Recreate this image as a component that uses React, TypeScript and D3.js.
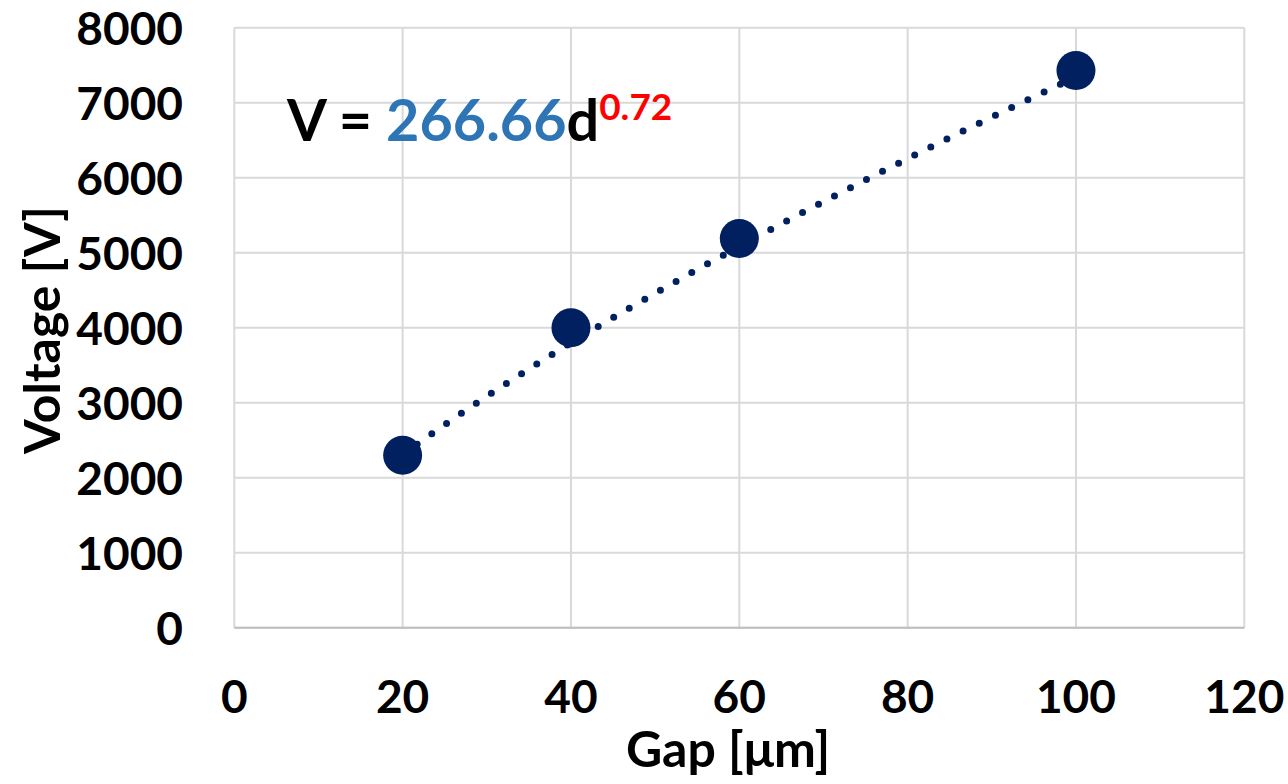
import React from "react";
import * as d3 from "d3";

const gapUm = [20, 40, 60, 100];
const voltage = [2300, 4000, 5190, 7430];
const xTicks = [0, 20, 40, 60, 80, 100, 120];
const yTicks = [0, 1000, 2000, 3000, 4000, 5000, 6000, 7000, 8000];
const fitCoeff = 266.66;
const fitExp = 0.72;

const W = 1288;
const H = 784;
const FONT = "Lato, 'Open Sans', sans-serif";

export default function App() {
  const x = d3.scaleLinear().domain([0, 120]).range([234.3, 1244.3]);
  const y = d3.scaleLinear().domain([0, 8000]).range([627.7, 27.7]);

  const fitX = d3.range(20, 100.01, 0.5);
  const fitLine = d3
    .line<number>()
    .x((d) => x(d))
    .y((d) => y(fitCoeff * Math.pow(d, fitExp)))(fitX) as string;

  return (
    <svg
      width={W}
      height={H}
      style={{ position: "absolute", left: 0, top: 0, background: "#fff" }}
      fontFamily={FONT}
      fontWeight={700}
    >
      {/* grid */}
      {xTicks.map((t) => (
        <line key={"gx" + t} x1={x(t)} x2={x(t)} y1={y(0)} y2={y(8000)} stroke="#d9d9d9" strokeWidth={2} />
      ))}
      {yTicks.map((t) => (
        <line key={"gy" + t} x1={x(0)} x2={x(120)} y1={y(t)} y2={y(t)} stroke="#d9d9d9" strokeWidth={2} />
      ))}
      <line x1={x(0)} x2={x(120)} y1={y(0)} y2={y(0)} stroke="#bfbfbf" strokeWidth={2} />

      {/* tick labels */}
      {yTicks.map((t) => (
        <text key={"ty" + t} x={183} y={y(t) + 17} textAnchor="end" fontSize={46}>
          {t}
        </text>
      ))}
      {xTicks.map((t) => (
        <text key={"tx" + t} x={x(t)} y={713} textAnchor="middle" fontSize={46}>
          {t}
        </text>
      ))}

      {/* axis titles */}
      <text x={728} y={767} textAnchor="middle" fontSize={50}>
        Gap [μm]
      </text>
      <text transform={`translate(60,330) rotate(-90)`} textAnchor="middle" fontSize={50}>
        Voltage [V]
      </text>

      {/* power trendline */}
      <path d={fitLine} fill="none" stroke="#002060" strokeWidth={7} strokeLinecap="round" strokeDasharray="0 18" />

      {/* data points */}
      {gapUm.map((g, i) => (
        <circle key={"p" + g} cx={x(g)} cy={y(voltage[i])} r={19.5} fill="#002060" />
      ))}

      {/* fit equation */}
      <text x={287} y={141} fontSize={57.5}>
        <tspan fill="#000">V = </tspan>
        <tspan fill="#2E75B6">{fitCoeff.toFixed(2)}</tspan>
        <tspan fill="#000">d</tspan>
        <tspan fill="#FF0000" fontSize={37} dy={-21}>
          {fitExp.toFixed(2)}
        </tspan>
      </text>
    </svg>
  );
}
